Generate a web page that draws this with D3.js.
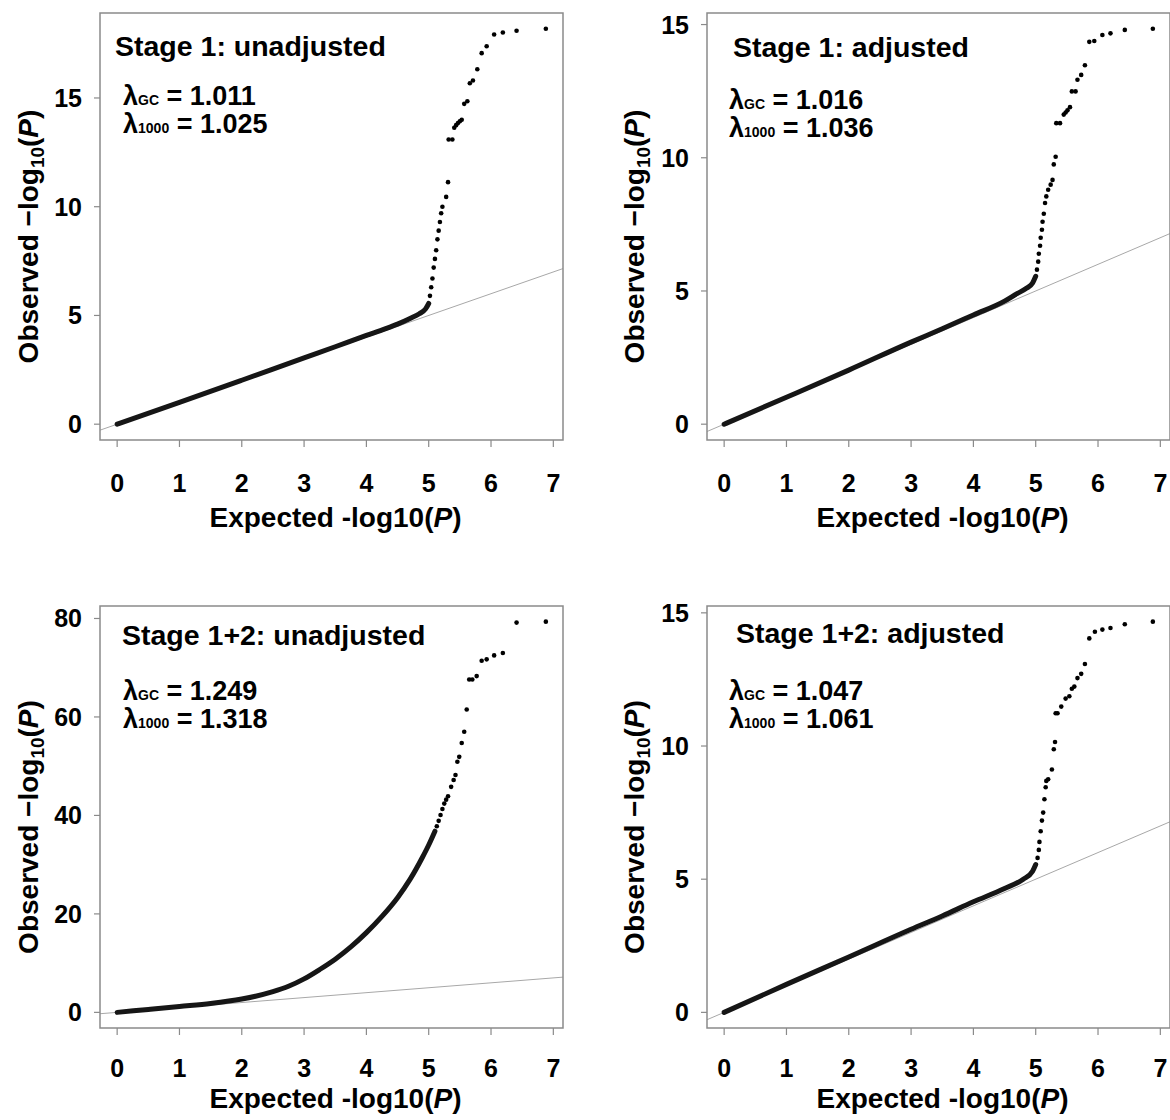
<!DOCTYPE html>
<html><head><meta charset="utf-8">
<script src="https://cdn.jsdelivr.net/npm/d3@7"></script>
<style>
body{margin:0;background:#fff}
svg{display:block}
text{font-family:"Liberation Sans",Arial,sans-serif;font-weight:bold;fill:#000}
</style>
</head><body>
<svg id="chart" width="1170" height="1120"></svg>
<script>
// ---------------- DATA ----------------
const panelTitles = ["Stage 1: unadjusted", "Stage 1: adjusted", "Stage 1+2: unadjusted", "Stage 1+2: adjusted"];
const lambdaGC   = ["1.011", "1.016", "1.249", "1.047"];
const lambda1000 = ["1.025", "1.036", "1.318", "1.061"];
const xTicks = [0, 1, 2, 3, 4, 5, 6, 7];
const yTicksS1Unadj  = [0, 5, 10, 15];
const yTicksS1Adj    = [0, 5, 10, 15];
const yTicksS12Unadj = [0, 20, 40, 60, 80];
const yTicksS12Adj   = [0, 5, 10, 15];
const xAxisLabel = "Expected -log10(";
const yAxisLabel = "Observed \u2212log";

// dense (overplotted) part of each QQ curve: [expected, observed]
const denseS1Unadj = [[0,0],[1,1.0],[2,2.02],[3,3.05],[3.5,3.56],[4,4.08],[4.3,4.38],[4.5,4.6],[4.7,4.86],[4.85,5.08],[4.95,5.3],[5.0,5.55]];
const denseS1Adj   = [[0,0],[1,1.01],[2,2.03],[3,3.08],[3.5,3.58],[4,4.1],[4.5,4.62],[4.7,4.9],[4.85,5.1],[4.95,5.3],[5.0,5.55]];
const denseS12Unadj = [[0,0],[0.5,0.6],[1,1.2],[1.5,1.8],[2,2.7],[2.5,4.2],[2.75,5.3],[3,6.8],[3.25,8.7],[3.5,10.8],[3.75,13.3],[4,16.2],[4.25,19.5],[4.5,23.3],[4.7,27],[4.9,31.5],[5.0,34],[5.1,36.8]];
const denseS12Adj  = [[0,0],[1,1.05],[2,2.08],[3,3.12],[3.5,3.62],[4,4.15],[4.5,4.65],[4.8,5.0],[4.95,5.3],[5.0,5.55]];

// sparse tail points: [expected, observed]
const tailS1Unadj = [[5.02,5.9],[5.04,6.3],[5.06,6.7],[5.08,7.2],[5.1,7.6],[5.12,8.0],[5.14,8.5],[5.16,8.9],[5.18,9.3],[5.2,9.7],[5.22,10.0],[5.28,10.45],[5.31,11.13],[5.32,13.09],[5.38,13.09],[5.41,13.63],[5.44,13.75],[5.47,13.85],[5.5,13.93],[5.53,14.0],[5.57,14.73],[5.62,14.85],[5.66,15.68],[5.71,15.8],[5.78,16.32],[5.85,17.06],[5.93,17.38],[6.05,17.92],[6.19,18.01],[6.41,18.09],[6.88,18.18]];
const tailS1Adj = [[5.02,5.8],[5.04,6.1],[5.05,6.4],[5.07,6.7],[5.08,7.0],[5.1,7.3],[5.11,7.6],[5.13,7.9],[5.15,8.3],[5.17,8.55],[5.2,8.8],[5.24,8.99],[5.27,9.17],[5.29,9.75],[5.32,10.04],[5.33,11.3],[5.39,11.3],[5.45,11.62],[5.48,11.7],[5.51,11.78],[5.55,11.9],[5.58,12.49],[5.64,12.49],[5.67,12.93],[5.73,13.11],[5.79,13.47],[5.86,14.35],[5.94,14.38],[6.07,14.61],[6.2,14.67],[6.43,14.8],[6.88,14.84]];
const tailS12Unadj = [[5.13,37.8],[5.16,38.9],[5.19,40.1],[5.22,41.3],[5.25,42.4],[5.28,43.2],[5.31,43.9],[5.36,45.8],[5.4,47.2],[5.43,48.2],[5.46,50.9],[5.49,51.9],[5.53,54.7],[5.57,57.0],[5.61,61.5],[5.65,67.6],[5.7,67.6],[5.77,68.3],[5.85,71.4],[5.93,71.7],[6.05,72.5],[6.19,73.0],[6.41,79.16],[6.88,79.36]];
const tailS12Adj = [[5.03,5.8],[5.05,6.1],[5.06,6.4],[5.08,6.8],[5.1,7.2],[5.12,7.5],[5.14,8.0],[5.16,8.45],[5.17,8.69],[5.2,8.75],[5.26,9.12],[5.29,9.88],[5.31,10.15],[5.32,11.23],[5.35,11.23],[5.41,11.48],[5.48,11.78],[5.54,11.87],[5.58,12.15],[5.62,12.23],[5.67,12.55],[5.73,12.71],[5.79,13.08],[5.86,14.04],[5.95,14.29],[6.07,14.37],[6.2,14.43],[6.43,14.57],[6.88,14.67]];

const denseSeries = [denseS1Unadj, denseS1Adj, denseS12Unadj, denseS12Adj];
const tailSeries  = [tailS1Unadj, tailS1Adj, tailS12Unadj, tailS12Adj];
const yTickSets   = [yTicksS1Unadj, yTicksS1Adj, yTicksS12Unadj, yTicksS12Adj];

// ---------------- LAYOUT ----------------
const layout = [
  {left:100, top:13,  right:563,  bottom:440,  titleX:115, titleY:56,  lamX:123, lamY1:105, lamGap:28, yLabX:38,  yLabShift:10, xTickY:492, xLabY:527},
  {left:707, top:13,  right:1170, bottom:440,  titleX:733, titleY:57,  lamX:729, lamY1:109, lamGap:28, yLabX:644, yLabShift:10, xTickY:492, xLabY:527},
  {left:100, top:606, right:563,  bottom:1028, titleX:122, titleY:645, lamX:123, lamY1:700, lamGap:28, yLabX:38,  yLabShift:10, xTickY:1077, xLabY:1108},
  {left:707, top:606, right:1170, bottom:1028, titleX:736, titleY:643, lamX:729, lamY1:700, lamGap:28, yLabX:644, yLabShift:10, xTickY:1077, xLabY:1108}
];

const svg = d3.select("#chart");
const boxColor = "#8a8a8a";

layout.forEach((L, i) => {
  const dense = denseSeries[i], tail = tailSeries[i];
  const all = dense.concat(tail);
  const xmax = d3.max(all, d => d[0]);
  const ymax = d3.max(all, d => d[1]);
  const x = d3.scaleLinear().domain([-0.04 * xmax, 1.04 * xmax]).range([L.left, L.right]);
  const y = d3.scaleLinear().domain([-0.04 * ymax, 1.04 * ymax]).range([L.bottom, L.top]);

  const g = svg.append("g");
  const clipId = "clip" + i;
  g.append("clipPath").attr("id", clipId).append("rect")
    .attr("x", L.left).attr("y", L.top).attr("width", L.right - L.left).attr("height", L.bottom - L.top);

  // reference line y = x
  const lo = Math.min(x.domain()[0], y.domain()[0]), hi = Math.max(x.domain()[1], y.domain()[1]);
  g.append("line").attr("clip-path", `url(#${clipId})`)
    .attr("x1", x(lo)).attr("y1", y(lo)).attr("x2", x(hi)).attr("y2", y(hi))
    .attr("stroke", "#a8a8a8").attr("stroke-width", 1);

  // dense part
  g.append("path").datum(dense)
    .attr("d", d3.line().x(d => x(d[0])).y(d => y(d[1])).curve(d3.curveMonotoneX))
    .attr("fill", "none").attr("stroke", "#161616").attr("stroke-width", 5)
    .attr("stroke-linecap", "round").attr("stroke-linejoin", "round");

  // tail points
  g.selectAll("circle.pt").data(tail).enter().append("circle")
    .attr("cx", d => x(d[0])).attr("cy", d => y(d[1])).attr("r", 2.3).attr("fill", "#000");

  // box
  g.append("rect").attr("x", L.left).attr("y", L.top)
    .attr("width", L.right - L.left).attr("height", L.bottom - L.top)
    .attr("fill", "none").attr("stroke", boxColor).attr("stroke-width", 1.5);

  // x axis ticks
  const xt = g.append("g");
  xt.selectAll("line").data(xTicks).enter().append("line")
    .attr("x1", d => x(d)).attr("x2", d => x(d)).attr("y1", L.bottom).attr("y2", L.bottom + 7)
    .attr("stroke", boxColor).attr("stroke-width", 1.2);
  xt.selectAll("text").data(xTicks).enter().append("text")
    .attr("x", d => x(d)).attr("y", L.xTickY).attr("text-anchor", "middle")
    .style("font-size", "25px").text(d => d);

  // y axis ticks
  const yt = g.append("g");
  yt.selectAll("line").data(yTickSets[i]).enter().append("line")
    .attr("x1", L.left - 6).attr("x2", L.left).attr("y1", d => y(d)).attr("y2", d => y(d))
    .attr("stroke", boxColor).attr("stroke-width", 1.2);
  yt.selectAll("text").data(yTickSets[i]).enter().append("text")
    .attr("x", L.left - 18).attr("y", d => y(d)).attr("dy", "0.36em").attr("text-anchor", "end")
    .style("font-size", "25px").text(d => d);

  // x axis label
  const xl = g.append("text").attr("x", (L.left + L.right) / 2 + 4).attr("y", L.xLabY)
    .attr("text-anchor", "middle").style("font-size", "28px");
  xl.append("tspan").text(xAxisLabel);
  xl.append("tspan").style("font-style", "italic").text("P");
  xl.append("tspan").text(")");

  // y axis label
  const cy = (L.top + L.bottom) / 2 + L.yLabShift;
  const yl = g.append("text").attr("transform", `translate(${L.yLabX},${cy}) rotate(-90)`)
    .attr("text-anchor", "middle").style("font-size", "28px");
  yl.append("tspan").text(yAxisLabel);
  yl.append("tspan").attr("dy", 6).style("font-size", "19px").text("10");
  yl.append("tspan").attr("dy", -6).text("(");
  yl.append("tspan").style("font-style", "italic").text("P");
  yl.append("tspan").text(")");

  // title
  g.append("text").attr("x", L.titleX).attr("y", L.titleY).style("font-size", "28.5px").text(panelTitles[i]);

  // lambda annotations (one text block, two lines)
  const t = g.append("text").attr("x", L.lamX).attr("y", L.lamY1).style("font-size", "27px");
  t.append("tspan").attr("x", L.lamX).text("\u03bb");
  t.append("tspan").style("font-size", "14px").text("GC");
  t.append("tspan").text(" = " + lambdaGC[i]);
  t.append("tspan").attr("x", L.lamX).attr("dy", L.lamGap).text("\u03bb");
  t.append("tspan").style("font-size", "14px").text("1000");
  t.append("tspan").text(" = " + lambda1000[i]);
});
</script>
</body></html>
